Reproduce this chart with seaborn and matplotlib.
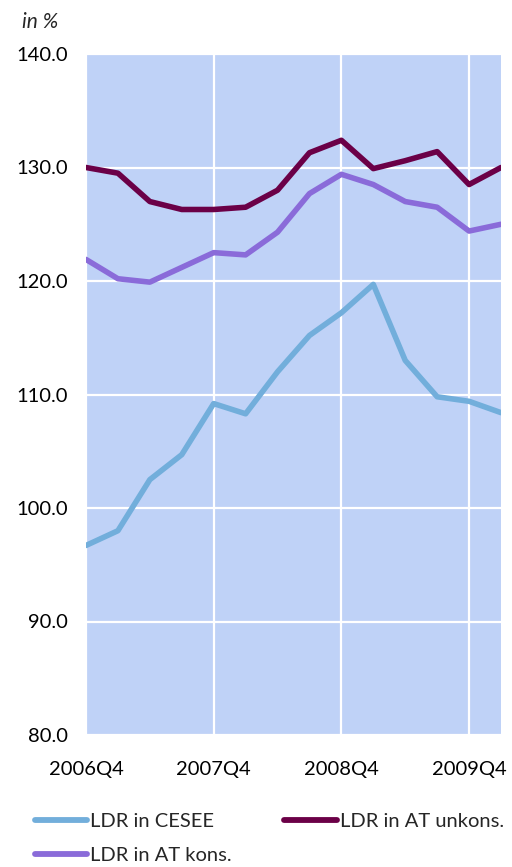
import matplotlib
matplotlib.use("Agg")
import matplotlib.pyplot as plt
import seaborn as sns
import pandas as pd
import numpy as np
from matplotlib.lines import Line2D

quarters = ["2006Q4", "2007Q1", "2007Q2", "2007Q3", "2007Q4", "2008Q1", "2008Q2",
            "2008Q3", "2008Q4", "2009Q1", "2009Q2", "2009Q3", "2009Q4", "2010Q1"]
ldr_cesee = [96.7, 98.0, 102.5, 104.7, 109.2, 108.3, 112.0, 115.2, 117.2, 119.7,
             113.0, 109.8, 109.4, 108.4]
ldr_at_unkons = [130.0, 129.5, 127.0, 126.3, 126.3, 126.5, 128.0, 131.3, 132.4, 129.9,
                 130.6, 131.4, 128.5, 130.0]
ldr_at_kons = [121.9, 120.2, 119.9, 121.2, 122.5, 122.3, 124.3, 127.7, 129.4, 128.5,
               127.0, 126.5, 124.4, 125.0]
series_names = ["LDR in CESEE", "LDR in AT unkons.", "LDR in AT kons."]
colors = ["#72AEDB", "#6B0047", "#8A6BD9"]
tick_labels = ["2006Q4", "2007Q4", "2008Q4", "2009Q4"]
y_ticks = [80, 90, 100, 110, 120, 130, 140]

sns.set_theme(style="white")
plt.rcParams['font.family'] = ['Lato', 'DejaVu Sans']

df = pd.DataFrame({
    "q": quarters * 3,
    "x": list(range(len(quarters))) * 3,
    "value": ldr_cesee + ldr_at_unkons + ldr_at_kons,
    "series": [series_names[0]] * len(quarters) + [series_names[1]] * len(quarters)
              + [series_names[2]] * len(quarters),
})

fig = plt.figure(figsize=(5.12, 8.67), dpi=100)
ax = fig.add_axes([86 / 512, 1 - 735 / 867, (501 - 86) / 512, (735 - 54) / 867])
ax.set_facecolor("#BFD2F7")

sns.lineplot(data=df, x="x", y="value", hue="series", hue_order=series_names,
             palette=colors, linewidth=4.0, ax=ax, legend=False, zorder=3)

ax.set_xlim(0, len(quarters) - 1)
ax.set_ylim(80, 140)
xt = [quarters.index(t) for t in tick_labels]
ax.set_xticks(xt)
ax.set_xticklabels(tick_labels)
ax.set_yticks(y_ticks)
ax.set_yticklabels([f"{v:.1f}" for v in y_ticks])
ax.grid(True, color="white", linewidth=1.6, zorder=1)
ax.set_axisbelow(True)
for s in ax.spines.values():
    s.set_visible(False)
ax.tick_params(axis="both", length=0, labelsize=14.5, colors="black")
ax.tick_params(axis="x", pad=19)
ax.tick_params(axis="y", pad=13)
ax.set_xlabel("")
ax.set_ylabel("")

fig.text(22 / 512, 1 - 22 / 867, "in %", fontsize=15, style="italic", va="center", ha="left")

handles = [Line2D([], [], color=colors[0], lw=4.2, solid_capstyle="round"),
           Line2D([], [], color=colors[2], lw=4.2, solid_capstyle="round"),
           Line2D([], [], color=colors[1], lw=4.2, solid_capstyle="round")]
labels = [series_names[0], series_names[2], series_names[1]]
fig.legend(handles, labels, ncol=2, loc="upper left", bbox_to_anchor=(35 / 512, 1 - 813 / 867),
           frameon=False, fontsize=14.5, handlelength=2.6, handletextpad=0.15,
           columnspacing=2.6, labelspacing=0.85, borderaxespad=0, borderpad=0)

fig.savefig("out.png", dpi=100)
